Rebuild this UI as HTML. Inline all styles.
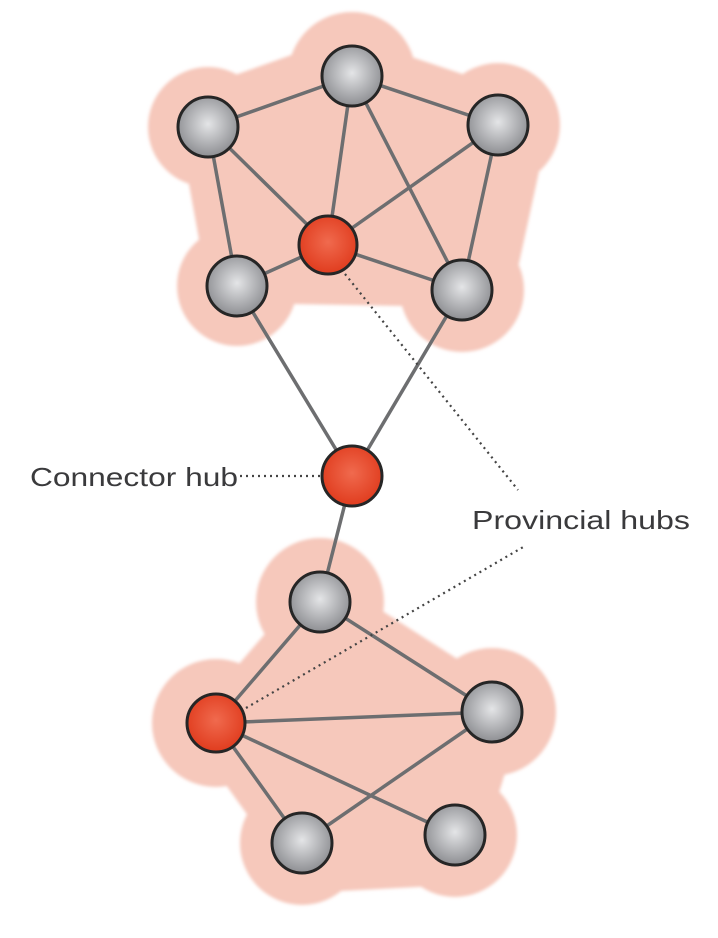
<!DOCTYPE html>
<html><head><meta charset="utf-8"><style>
html,body{margin:0;padding:0;background:#fff;}
svg{display:block;}
</style></head><body>
<svg width="718" height="938" viewBox="0 0 718 938" xmlns="http://www.w3.org/2000/svg">
<defs>
<radialGradient id="g" cx="0.5" cy="0.45" r="0.55">
<stop offset="0" stop-color="#e4e5e7"/><stop offset="1" stop-color="#8d8e92"/>
</radialGradient>
<radialGradient id="r" cx="0.5" cy="0.45" r="0.55">
<stop offset="0" stop-color="#f06a4e"/><stop offset="1" stop-color="#e03c1e"/>
</radialGradient>
<filter id="b"><feGaussianBlur stdDeviation="1.5"/></filter>
</defs>
<g fill="#f6c8bb" stroke="#f6c8bb" stroke-linecap="round" filter="url(#b)">
<circle cx="208" cy="127" r="60" stroke="none"/><circle cx="352" cy="76" r="64" stroke="none"/><circle cx="498" cy="125" r="62" stroke="none"/>
<circle cx="462" cy="290" r="62" stroke="none"/><circle cx="237" cy="286" r="60" stroke="none"/>
<polygon points="208,127 352,76 498,125 462,290 237,286" stroke="none"/>
<line x1="208" y1="127" x2="352" y2="76" stroke-width="80"/>
<line x1="352" y1="76" x2="498" y2="125" stroke-width="74"/>
<line x1="498" y1="125" x2="462" y2="290" stroke-width="100"/>
<line x1="462" y1="290" x2="237" y2="286" stroke-width="34"/>
<line x1="237" y1="286" x2="208" y2="127" stroke-width="58"/>
<circle cx="320" cy="602" r="64" stroke="none"/><circle cx="492" cy="712" r="64" stroke="none"/><circle cx="455" cy="835" r="62" stroke="none"/>
<circle cx="302" cy="843" r="62" stroke="none"/><circle cx="216" cy="723" r="64" stroke="none"/>
<polygon points="320,602 492,712 455,835 302,843 216,723" stroke="none"/>
<line x1="320" y1="602" x2="492" y2="712" stroke-width="52"/>
<line x1="492" y1="712" x2="455" y2="835" stroke-width="60"/>
<line x1="455" y1="835" x2="302" y2="843" stroke-width="100"/>
<line x1="302" y1="843" x2="216" y2="723" stroke-width="56"/>
<line x1="216" y1="723" x2="320" y2="602" stroke-width="42"/>
</g>
<g stroke="#6d6e70" stroke-width="3.5" fill="none">
<line x1="208" y1="127" x2="352" y2="76"/><line x1="352" y1="76" x2="498" y2="125"/>
<line x1="208" y1="127" x2="237" y2="286"/><line x1="208" y1="127" x2="328" y2="245"/>
<line x1="352" y1="76" x2="328" y2="245"/><line x1="352" y1="76" x2="462" y2="290"/>
<line x1="498" y1="125" x2="328" y2="245"/><line x1="498" y1="125" x2="462" y2="290"/>
<line x1="328" y1="245" x2="237" y2="286"/><line x1="328" y1="245" x2="462" y2="290"/>
<line x1="237" y1="286" x2="352" y2="476"/><line x1="462" y1="290" x2="352" y2="476"/>
<line x1="352" y1="476" x2="320" y2="602"/>
<line x1="320" y1="602" x2="216" y2="723"/><line x1="320" y1="602" x2="492" y2="712"/>
<line x1="216" y1="723" x2="492" y2="712"/><line x1="216" y1="723" x2="302" y2="843"/>
<line x1="216" y1="723" x2="455" y2="835"/><line x1="302" y1="843" x2="492" y2="712"/>
</g>
<g stroke="#444" stroke-width="2.2" stroke-dasharray="2,4" fill="none">
<line x1="240" y1="476" x2="322" y2="476"/>
<line x1="345" y1="274" x2="518" y2="490"/>
<line x1="246" y1="708" x2="525" y2="546"/>
</g>
<g stroke="#262626" stroke-width="3">
<circle cx="208" cy="127" r="30" fill="url(#g)"/><circle cx="352" cy="76" r="30" fill="url(#g)"/>
<circle cx="498" cy="125" r="30" fill="url(#g)"/><circle cx="237" cy="286" r="30" fill="url(#g)"/>
<circle cx="462" cy="290" r="30" fill="url(#g)"/><circle cx="328" cy="245" r="29" fill="url(#r)"/>
<circle cx="352" cy="476" r="30" fill="url(#r)"/>
<circle cx="320" cy="602" r="30" fill="url(#g)"/><circle cx="216" cy="723" r="29" fill="url(#r)"/>
<circle cx="492" cy="712" r="30" fill="url(#g)"/><circle cx="302" cy="843" r="30" fill="url(#g)"/>
<circle cx="455" cy="835" r="30" fill="url(#g)"/>
</g>
<g font-family="Liberation Sans, sans-serif" font-size="26" fill="#3a3a3c">
<text x="30" y="486" textLength="208" lengthAdjust="spacingAndGlyphs">Connector hub</text>
<text x="472" y="529" textLength="218" lengthAdjust="spacingAndGlyphs">Provincial hubs</text>
</g>
</svg>
</body></html>
